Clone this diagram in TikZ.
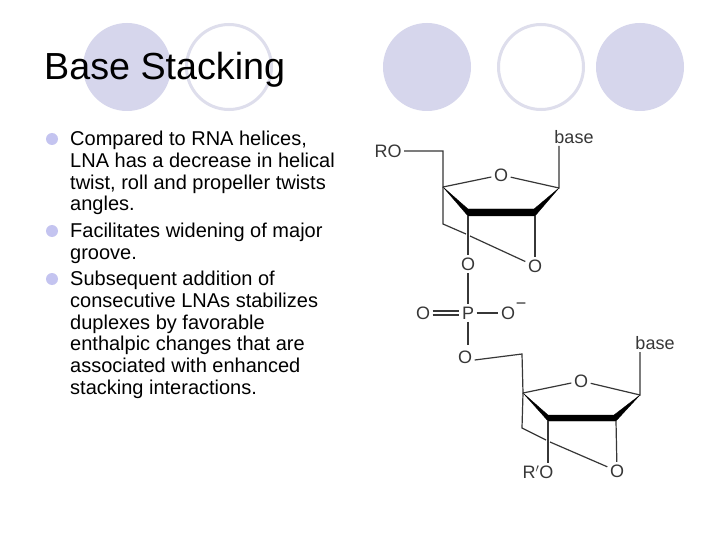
\documentclass[tikz,border=0pt]{standalone}
\usepackage{fontspec}
\setmainfont{Liberation Sans}
\tikzset{
  discf/.style={circle,fill=deco,draw=none,minimum size=88pt,inner sep=0pt},
  ringd/.style={circle,fill=white,draw=decoring,line width=3pt,minimum size=85pt,inner sep=0pt},
  bul/.style={circle,fill=bullet,draw=none,minimum size=12pt,inner sep=0pt},
  body/.style={anchor=north west,align=left,inner sep=0pt,text=black,font=\fontsize{20}{21.7}\selectfont},
  atom/.style={inner sep=2.5pt,text=chem,font=\fontsize{18}{18}\selectfont},
  bond/.style={draw=chem,line width=1.2pt},
  wedge/.style={fill=black,draw=black,line width=.3pt,line join=round}
}
\definecolor{deco}{RGB}{214,214,236}
\definecolor{decoring}{RGB}{222,222,236}
\definecolor{bullet}{RGB}{196,196,240}
\definecolor{chem}{RGB}{55,55,55}
\begin{document}
\begin{tikzpicture}[x=1pt,y=-1pt]
\useasboundingbox (0,0) rectangle (720,540);
\fill[white] (0,0) rectangle (720,540);
% decoration
\node[discf] (d1) at (127,67) {};
\node[ringd] (d2) at (229,67) {};
\node[discf] (d3) at (427,67) {};
\node[ringd] (d4) at (541,67) {};
\node[discf] (d5) at (640,67) {};
% title
\node[anchor=base west,inner sep=0pt,text=black,font=\fontsize{37.7}{37.7}\selectfont] (title) at (44,80) {Base Stacking};
% bullets
\node[bul] (b1) at (52,139) {};
\node[bul] (b2) at (52,231) {};
\node[bul] (b3) at (52,279) {};
\node[body] (t1) at (70,131) {Compared to RNA helices,\\LNA has a decrease in helical\\twist, roll and propeller twists\\angles.};
\node[body] (t2) at (70,223) {Facilitates widening of major\\groove.};
\node[body] (t3) at (70,271) {Subsequent addition of\\consecutive LNAs stabilizes\\duplexes by favorable\\enthalpic changes that are\\associated with enhanced\\stacking interactions.};
% upper sugar
\node[atom] (ro) at (388,151) {RO};
\node[atom] (base1) at (574,137) {base};
\node[atom] (o1) at (501,175) {O};
\node[atom] (o2) at (535,266) {O};
\node[atom] (o3) at (468,264) {O};
\coordinate (c51) at (443,151);
\coordinate (c41) at (443,187);
\coordinate (c11) at (559,188);
\coordinate (c21) at (534,209);
\coordinate (c31) at (468,209);
\coordinate (c21b) at (535,216);
\coordinate (c31b) at (468,216);
\coordinate (b1a) at (443,224);
\coordinate (x1a) at (466,234);
\coordinate (x1b) at (470,236);
\coordinate (b1top) at (559,146);
\draw[wedge] (c41) -- (c31) -- (c21) -- (c11) -- (c21b) -- (c31b) -- cycle;
\draw[bond] (ro) -- (c51) -- (c41) -- (o1) -- (c11) -- (b1top);
\draw[bond] (c41) -- (b1a) -- (x1a);
\draw[bond] (x1b) -- (o2);
\draw[bond] (c31b) -- (o3);
\draw[bond] (c21b) -- (o2);
% phosphate
\node[atom] (p) at (468,313) {P};
\node[atom] (oeq) at (423,313) {O};
\node[atom] (om) at (508,313) {O};
\node[inner sep=0pt,text=chem,font=\fontsize{18}{18}\selectfont] (minus) at (521,306) {\char"2212};
\node[atom] (o4) at (465,357) {O};
\coordinate (pdown) at (468,345);
\draw[bond] (o3) -- (p);
\draw[bond] ([yshift=-2pt]oeq.east) -- ([yshift=-2pt]p.west);
\draw[bond] ([yshift=2pt]oeq.east) -- ([yshift=2pt]p.west);
\draw[bond] (p) -- (om);
\draw[bond] (p) -- (pdown);
% lower sugar
\node[atom] (base2) at (655,343) {base};
\node[atom] (o5) at (581,381) {O};
\node[atom] (o6) at (617,471) {O};
\node[atom] (ro2) at (538,472) {R$'$O};
\coordinate (c52) at (522,354);
\coordinate (c42) at (523,393);
\coordinate (c12) at (640,395);
\coordinate (c22) at (614,415);
\coordinate (c32) at (548,415);
\coordinate (c22b) at (616,421);
\coordinate (c32b) at (548,421);
\coordinate (b2a) at (522,428);
\coordinate (x2a) at (546,440);
\coordinate (x2b) at (550,442);
\coordinate (b2top) at (640,352);
\draw[wedge] (c42) -- (c32) -- (c22) -- (c12) -- (c22b) -- (c32b) -- cycle;
\draw[bond] ([yshift=-3pt]o4.east) -- (c52) -- (c42) -- (o5) -- (c12) -- (b2top);
\draw[bond] (c42) -- (b2a) -- (x2a);
\draw[bond] (x2b) -- (o6);
\draw[bond] (c32b) -- (ro2.north -| c32b);
\draw[bond] (c22b) -- (o6);
\end{tikzpicture}
\end{document}
